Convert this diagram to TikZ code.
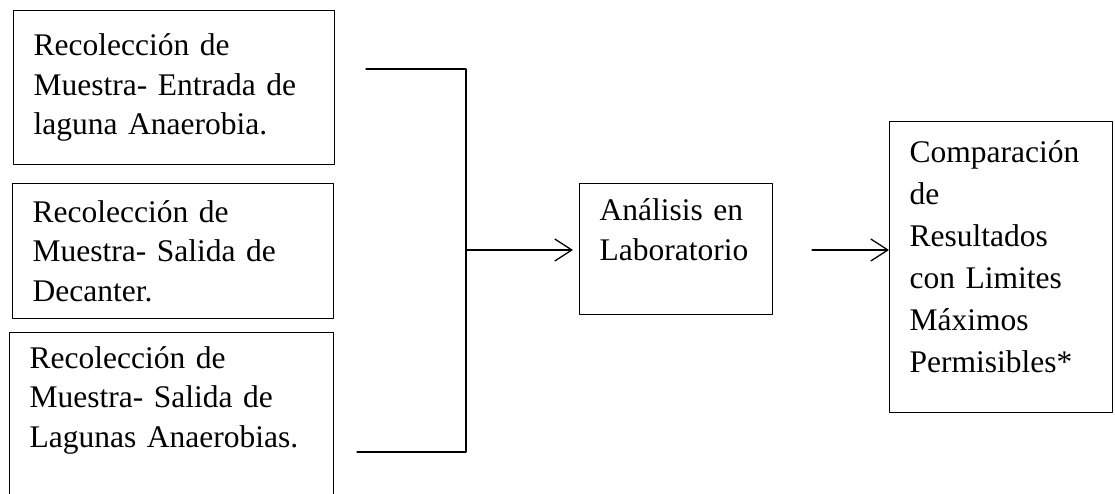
\documentclass[tikz,border=0pt]{standalone}
\usepackage{fontspec}
\setmainfont{Liberation Serif}
\usetikzlibrary{arrows.meta}

\tikzset{
  paso/.style={draw, line width=1.3pt, anchor=north west, align=left,
    inner xsep=20pt, inner ysep=0pt, font=\fontsize{31.5}{39.5}\selectfont},
  linea/.style={line width=1.3pt},
  flecha/.style={linea, -{Straight Barb[length=17pt,width=22pt,line width=1.3pt]}},
}

\begin{document}
\begin{tikzpicture}[x=1pt,y=-1pt,line cap=round,line join=round]
\useasboundingbox (0,0) rectangle (1115,494);
% muestras
\node[paso,text width=281pt,minimum width=321pt,minimum height=154pt] (entrada) at (13,10)
  {Recolección de\\Muestra- Entrada de\\laguna Anaerobia.};
\node[paso,text width=281pt,minimum width=321pt,minimum height=135pt] (decanter) at (12,183)
  {Recolección de\\Muestra- Salida de\\Decanter.};
\node[paso,text width=284pt,minimum width=324pt,minimum height=168pt] (lagunas) at (9,332)
  {Recolección de\\Muestra- Salida de\\Lagunas Anaerobias.\\\mbox{}};
% analisis y comparacion
\node[paso,font=\fontsize{31.5}{40}\selectfont,text width=153pt,minimum width=193pt,
  minimum height=131pt] (lab) at (579,183) {Análisis en\\Laboratorio\\\mbox{}};
\node[paso,font=\fontsize{31.5}{42}\selectfont,text width=183pt,minimum width=223pt,
  minimum height=291pt] (comp) at (889,121)
  {Comparación\\de\\Resultados\\con Limites\\Máximos\\Permisibles*\\[-21pt]\mbox{}};
% llave de union
\coordinate (ini1) at (366,69);
\coordinate (ini3) at (357,452);
\coordinate (junta) at (466,250);
\draw[linea] (ini1) -| (junta) |- (ini3);
\draw[flecha,shorten >=6pt] (junta) -- (junta -| lab.west);
\coordinate (salida) at (812,250);
\draw[flecha] (salida) -- (salida -| comp.west);
\end{tikzpicture}
\end{document}
